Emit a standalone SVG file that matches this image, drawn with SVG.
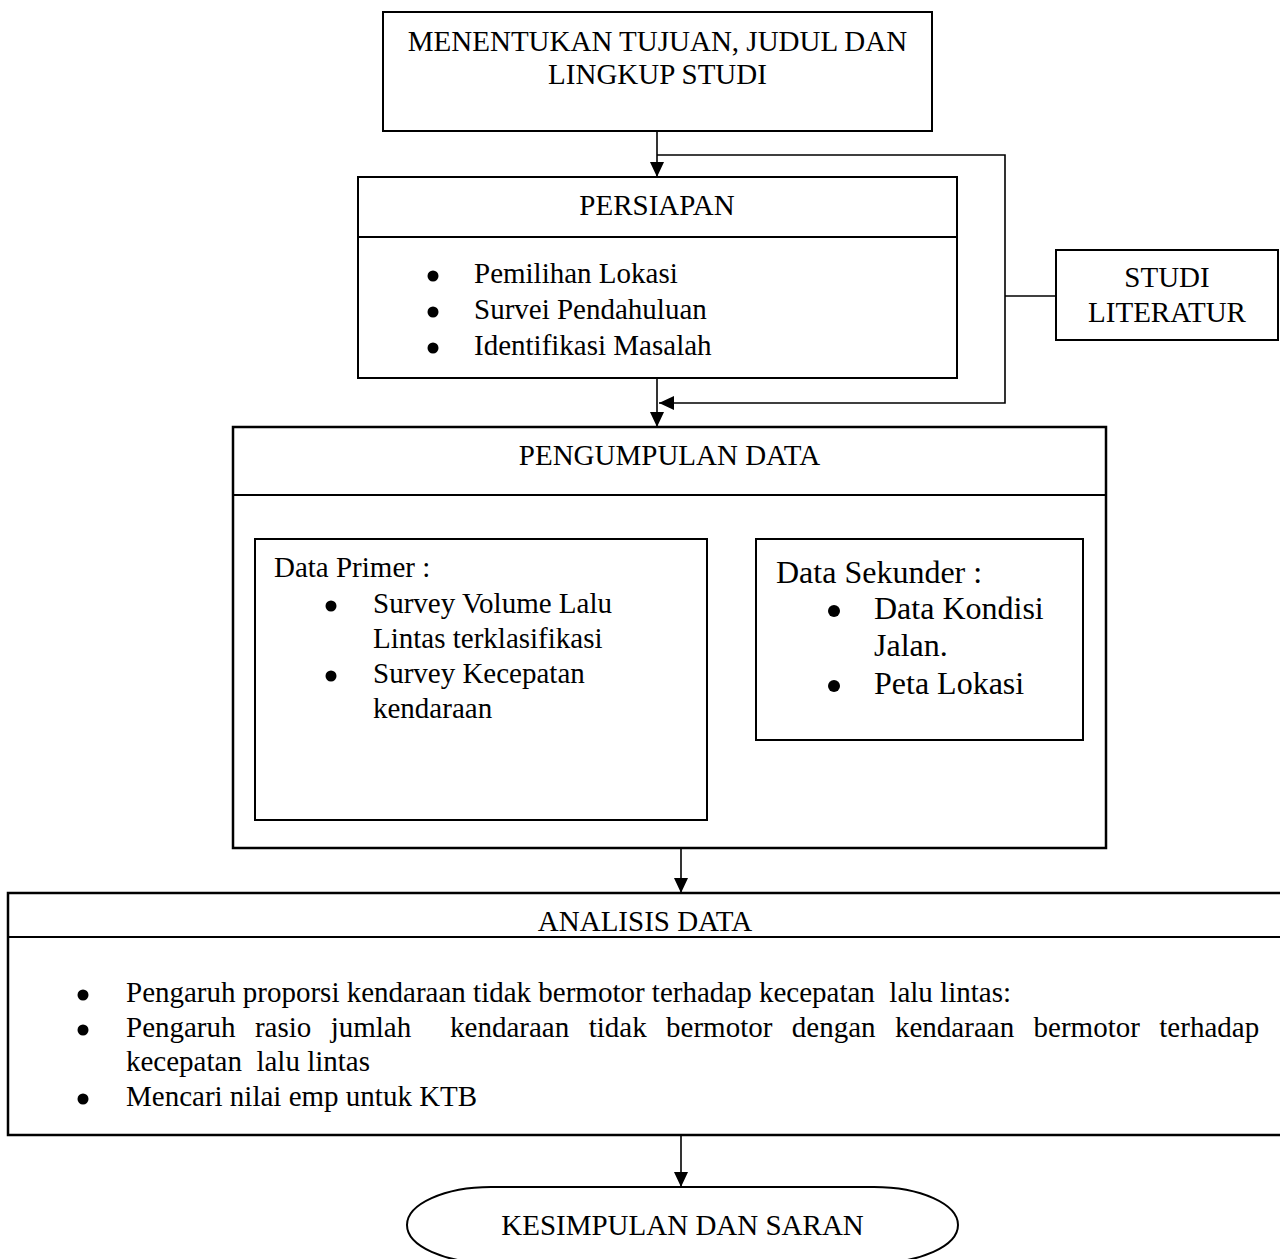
<svg xmlns="http://www.w3.org/2000/svg" width="1280" height="1259" viewBox="0 0 1280 1259">
<style>
text{font-family:"Liberation Serif","Times New Roman",serif;font-size:29px;fill:#000}
.c{text-anchor:middle}
.big{font-size:32px}
.dot{fill:#000}
.box{fill:#fff;stroke:#000;stroke-width:2}
.thick{stroke-width:2.5}
.div{stroke:#000;stroke-width:2;fill:none}
.con{stroke:#000;stroke-width:1.6;fill:none}
</style>
<defs>
<marker id="ah" markerUnits="userSpaceOnUse" markerWidth="16" markerHeight="14" refX="15" refY="7" orient="auto">
<path d="M0,0 L15,7 L0,14 Z" fill="#000"/>
</marker>
</defs>
<rect width="1280" height="1259" fill="#fff"/>

<g id="connectors">
<path class="con" d="M657,131 V177" marker-end="url(#ah)"/>
<path class="con" d="M657,155 H1005 V403 H659" marker-end="url(#ah)"/>
<path class="con" d="M1005,296 H1056"/>
<path class="con" d="M657,378 V427" marker-end="url(#ah)"/>
<path class="con" d="M681,848 V893" marker-end="url(#ah)"/>
<path class="con" d="M681,1135 V1187" marker-end="url(#ah)"/>
</g>

<g id="tujuan">
<rect class="box" x="383" y="12" width="549" height="119"/>
<text class="c" x="657.5" y="51">MENENTUKAN TUJUAN, JUDUL DAN</text>
<text class="c" x="657.5" y="84">LINGKUP STUDI</text>
</g>

<g id="persiapan">
<rect class="box" x="358" y="177" width="599" height="201"/>
<line class="div" x1="358" y1="237" x2="957" y2="237"/>
<text class="c" x="657" y="215">PERSIAPAN</text>
<circle class="dot" cx="433" cy="276" r="5.5"/><text x="474" y="283">Pemilihan Lokasi</text>
<circle class="dot" cx="433" cy="312" r="5.5"/><text x="474" y="319">Survei Pendahuluan</text>
<circle class="dot" cx="433" cy="348" r="5.5"/><text x="474" y="355">Identifikasi Masalah</text>
</g>

<g id="studi-literatur">
<rect class="box" x="1056" y="250" width="222" height="90"/>
<text class="c" x="1167" y="287">STUDI</text>
<text class="c" x="1167" y="322">LITERATUR</text>
</g>

<g id="pengumpulan">
<rect class="box thick" x="233" y="427" width="873" height="421"/>
<line class="div" x1="233" y1="495" x2="1106" y2="495"/>
<text class="c" x="669.5" y="465">PENGUMPULAN DATA</text>
</g>

<g id="data-primer">
<rect class="box" x="255" y="539" width="452" height="281"/>
<text x="274" y="577">Data Primer :</text>
<circle class="dot" cx="331" cy="606" r="5.5"/><text x="373" y="613">Survey Volume Lalu</text>
<text x="373" y="648">Lintas terklasifikasi</text>
<circle class="dot" cx="331" cy="676" r="5.5"/><text x="373" y="683">Survey Kecepatan</text>
<text x="373" y="718">kendaraan</text>
</g>

<g id="data-sekunder">
<rect class="box" x="756" y="539" width="327" height="201"/>
<text class="big" x="776" y="583">Data Sekunder :</text>
<circle class="dot" cx="834" cy="611" r="6"/><text class="big" x="874" y="619">Data Kondisi</text>
<text class="big" x="874" y="656">Jalan.</text>
<circle class="dot" cx="834" cy="686" r="6"/><text class="big" x="874" y="694">Peta Lokasi</text>
</g>

<g id="analisis">
<rect class="box thick" x="8" y="893" width="1276" height="242"/>
<line class="div" x1="8" y1="937" x2="1284" y2="937"/>
<text class="c" x="645" y="931">ANALISIS DATA</text>
<circle class="dot" cx="83" cy="995" r="5.5"/>
<text x="126" y="1002" xml:space="preserve">Pengaruh proporsi kendaraan tidak bermotor terhadap kecepatan  lalu lintas:</text>
<circle class="dot" cx="83" cy="1030" r="5.5"/>
<text y="1037"><tspan x="126">Pengaruh</tspan><tspan x="254.9">rasio</tspan><tspan x="330.7">jumlah</tspan><tspan x="450.1">kendaraan</tspan><tspan x="588.7">tidak</tspan><tspan x="666.1">bermotor</tspan><tspan x="791.8">dengan</tspan><tspan x="895">kendaraan</tspan><tspan x="1033.6">bermotor</tspan><tspan x="1159.3">terhadap</tspan></text>
<text x="126" y="1071" xml:space="preserve">kecepatan  lalu lintas</text>
<circle class="dot" cx="83" cy="1099" r="5.5"/>
<text x="126" y="1106">Mencari nilai emp untuk KTB</text>
</g>

<g id="kesimpulan">
<rect class="box" x="407" y="1187" width="551" height="76" rx="84" ry="38"/>
<text class="c" x="682.5" y="1235">KESIMPULAN DAN SARAN</text>
</g>
</svg>
